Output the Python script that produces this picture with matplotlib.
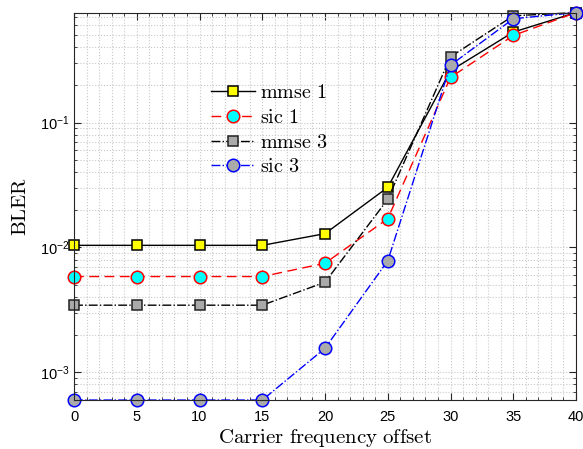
import numpy as np
import matplotlib
matplotlib.use("Agg")
import matplotlib.pyplot as plt
from matplotlib.ticker import LogLocator, MultipleLocator, NullFormatter

plt.rcParams['mathtext.fontset'] = 'cm'
plt.rcParams['font.family'] = ['Liberation Sans', 'DejaVu Sans']

# data
cfo = [0, 5, 10, 15, 20, 25, 30, 35, 40]
mmse1 = [0.0104, 0.0104, 0.0104, 0.0104, 0.0129, 0.0303, 0.26, 0.53, 0.76]
sic1 = [0.00585, 0.00585, 0.00585, 0.00585, 0.00748, 0.0170, 0.23, 0.498, 0.76]
mmse3 = [0.00345, 0.00345, 0.00345, 0.00345, 0.00527, 0.0243, 0.336, 0.716, 0.76]
sic3 = [0.0006, 0.0006, 0.0006, 0.0006, 0.00156, 0.00782, 0.288, 0.678, 0.76]

fig = plt.figure(figsize=(5.83, 4.49), dpi=100)
ax = fig.add_axes([0.127, 0.109, 0.861, 0.863])

ax.plot(cfo, mmse1, '-', color='k', lw=1.0, marker='s', ms=7.5, clip_on=False,
        mfc='#ffff00', mec='k', mew=1.1, label=r'$\mathrm{mmse\ 1}$')
ax.plot(cfo, sic1, '--', color='r', lw=1.0, marker='o', ms=9, clip_on=False,
        mfc='#00ffff', mec='r', mew=1.1, label=r'$\mathrm{sic\ 1}$', dashes=(7, 4))
ax.plot(cfo, mmse3, '-.', color='k', lw=1.0, marker='s', ms=7.5, clip_on=False,
        mfc='#aaaaaa', mec='#222222', mew=1.1, label=r'$\mathrm{mmse\ 3}$')
ax.plot(cfo, sic3, '-.', color='b', lw=1.0, marker='o', ms=9, clip_on=False,
        mfc='#aaaaaa', mec='b', mew=1.1, label=r'$\mathrm{sic\ 3}$')

ax.set_yscale('log')
ax.set_xlim(0, 40)
ax.set_ylim(0.0006, 0.76)
ax.xaxis.set_major_locator(MultipleLocator(5))
ax.xaxis.set_minor_locator(MultipleLocator(1))
ax.yaxis.set_minor_locator(LogLocator(base=10, subs=np.arange(2, 10)))
ax.yaxis.set_minor_formatter(NullFormatter())

ax.grid(True, which='both', linestyle=':', color='#c8c8c8', linewidth=0.8)
ax.tick_params(which='both', direction='in', top=True, right=True, labelsize=10.5, color='#262626')
ax.tick_params(which='major', length=5)
ax.tick_params(which='minor', length=2.5)
ax.tick_params(axis='x', which='major', pad=7)
for s in ax.spines.values():
    s.set_color('#262626')
    s.set_linewidth(0.8)

ax.set_xlabel(r'$\mathrm{Carrier\ frequency\ offset}$', fontsize=15, labelpad=2)
ax.set_ylabel(r'$\mathrm{BLER}$', fontsize=15, labelpad=7)

ax.legend(loc='upper left', bbox_to_anchor=(0.256, 0.838), frameon=False,
          fontsize=14.5, handlelength=2.2, handletextpad=0.25, labelspacing=0.28,
          borderaxespad=0)

fig.savefig('out.png', dpi=100)
